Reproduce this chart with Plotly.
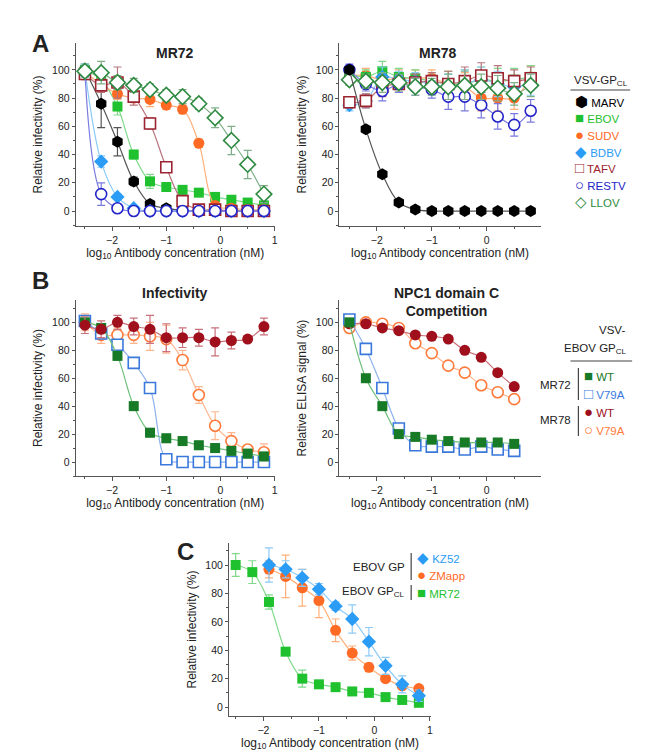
import plotly.graph_objects as go

# ---- data ----
xA = [-2.5, -2.2, -1.9, -1.6, -1.3, -1.0, -0.7, -0.4, -0.1, 0.2, 0.5, 0.8]
xN = [-2.5, -2.2, -1.9, -1.6, -1.3, -1.0, -0.7, -0.4, -0.1, 0.2, 0.5]
xK = [-1.9, -1.6, -1.3, -1.0, -0.7, -0.4, -0.1, 0.2, 0.5, 0.8]

# A: MR72
mr72_marv = [100, 76, 49, 21, 5, 2, 0.5, 0, 0, 0, 0, 0]
mr72_ebov = [100, 93, 74, 40, 21, 17, 15, 13, 10, 8, 6, 4]
mr72_sudv = [98, 90, 83, 80, 79, 75, 72, 48, 4, 2, 1, 1]
mr72_bdbv = [100, 35, 10, 2, 0, 0, 0, 0, 0, 0, 0, 0]
mr72_tafv = [97, 89, 91, 81, 62, 31, 7, 1, 1, 0, 0, 0]
mr72_restv = [99, 12, 2, 0, 0, 0, 0, 0, 0, 0, 0, 0]
mr72_llov = [99, 98, 91, 89, 86, 82, 81, 76, 66, 50, 33, 12]
mr72_err = {
    'marv': [4, 17, 10, 3, 2, 1, 1, 1, 1, 1, 1, 1],
    'ebov': [4, 6, 6, 3, 5, 3, 3, 2, 2, 2, 2, 2],
    'sudv': [4, 5, 4, 3, 5, 3, 3, 3, 2, 2, 1, 1],
    'bdbv': [4, 4, 2, 1, 1, 1, 1, 1, 1, 1, 1, 1],
    'tafv': [4, 5, 11, 6, 4, 3, 3, 1, 1, 1, 1, 1],
    'restv': [4, 8, 2, 1, 1, 1, 1, 1, 1, 1, 1, 1],
    'llov': [4, 8, 5, 5, 4, 4, 5, 4, 7, 10, 10, 6],
}
# A: MR78
mr78_marv = [100, 58, 26, 6, 1, 0, 0, 0, 0, 0, 0, 0]
mr78_ebov = [97, 95, 99, 95, 94, 92, 90, 90, 93, 92, 93, 95]
mr78_sudv = [96, 96, 93, 94, 94, 94, 90, 88, 80, 80, 80, 95]
mr78_bdbv = [75, 78, 95, 93, 92, 90, 88, 90, 93, 90, 88, 90]
mr78_tafv = [77, 78, 88, 90, 91, 92, 90, 92, 96, 94, 92, 94]
mr78_restv = [100, 90, 85, 90, 88, 86, 81, 81, 75, 67, 61, 71]
mr78_llov = [93, 92, 91, 91, 88, 88, 88, 89, 88, 87, 83, 89]
mr78_err = [4, 5, 7, 6, 6, 6, 9, 10, 9, 9, 8, 8]

# B: infectivity
inf_mr72_wt = [100, 96, 76, 40, 21, 17, 15, 12, 10, 8, 6, 4]
inf_mr72_v79a = [101, 92, 84, 71, 53, 2, 0, 0, 0, 0, 0, 0]
inf_mr78_wt = [98, 95, 100, 97, 95, 89, 89, 89, 86, 87, 88, 97]
inf_mr78_v79a = [100, 91, 91, 91, 90, 88, 73, 48, 26, 15, 9, 7]
inf_err = [6, 6, 5, 6, 10, 10, 7, 6, 10, 6, 2, 6]
# B: NPC1 competition
npc_mr72_wt = [100, 60, 40, 20, 18, 16, 15, 14, 14, 14, 13]
npc_mr72_v79a = [102, 81, 53, 24, 12, 11, 11, 9, 11, 9, 8]
npc_mr78_wt = [99, 99, 96, 94, 91, 90, 88, 80, 75, 64, 54]
npc_mr78_v79a = [96, 100, 99, 96, 85, 78, 69, 64, 55, 50, 45]

# C
c_mr72 = [100, 95, 74, 39, 20, 16, 14, 11, 10, 7, 5, 3]
c_kz52 = [100, 97, 91, 83, 71, 62, 46, 29, 16, 8]
c_zmapp = [97, 92, 84, 75, 54, 38, 28, 20, 15, 13]
c_err_mr72 = [8, 8, 5, 2, 6, 2, 2, 2, 2, 2, 2, 2]
c_err_kz52 = [12, 6, 6, 4, 3, 10, 10, 6, 6, 4]
c_err_zmapp = [6, 15, 13, 12, 8, 5, 3, 2, 2, 2]

W, H = 663, 752
FONT = "Liberation Sans, Arial, sans-serif"


def fx(p):
    return p / W


def fy(p):
    return 1 - p / H


fig = go.Figure()


def add(ax, x, y, err, symbol, color, lcolor, hollow=False, size=10):
    fig.add_trace(go.Scatter(
        x=x, y=y, mode='lines', line=dict(color=lcolor, width=1.2, shape='spline', smoothing=1.0),
        xaxis='x' + ax, yaxis='y' + ax, showlegend=False, hoverinfo='skip', cliponaxis=False))
    fig.add_trace(go.Scatter(
        x=x, y=y, mode='markers', cliponaxis=False,
        marker=dict(symbol=symbol, size=size, color='white' if hollow else color,
                    line=dict(color=color, width=1.6 if hollow else 0)),
        error_y=dict(type='data', array=err, color=lcolor, thickness=1.2, width=4),
        xaxis='x' + ax, yaxis='y' + ax, showlegend=False))


C_MARV, C_EBOV, C_SUDV, C_BDBV = '#000000', '#1fc12f', '#ff6a25', '#2b9cf5'
C_TAFV, C_RESTV, C_LLOV = '#9c2430', '#2424c8', '#2e8a40'
L_MARV, L_EBOV, L_SUDV, L_BDBV = '#555555', '#7fd98a', '#ffb07a', '#8ccaf8'
L_TAFV, L_RESTV, L_LLOV = '#b8747c', '#7a7ae0', '#7fae88'

# panel A left
e = mr72_err
add('', xA, mr72_marv, e['marv'], 'hexagon', C_MARV, L_MARV, size=12)
add('', xA, mr72_ebov, e['ebov'], 'square', C_EBOV, L_EBOV)
add('', xA, mr72_sudv, e['sudv'], 'circle', C_SUDV, L_SUDV, size=11)
add('', xA, mr72_bdbv, e['bdbv'], 'diamond', C_BDBV, L_BDBV, size=11)
add('', xA, mr72_tafv, e['tafv'], 'square', C_TAFV, L_TAFV, hollow=True, size=11)
add('', xA, mr72_restv, e['restv'], 'circle', C_RESTV, L_RESTV, hollow=True, size=11)
add('', xA, mr72_llov, e['llov'], 'diamond', C_LLOV, L_LLOV, hollow=True, size=12)
# panel A right
add('2', xA, mr78_sudv, mr78_err, 'circle', C_SUDV, L_SUDV, size=11)
add('2', xA, mr78_ebov, mr78_err, 'square', C_EBOV, L_EBOV)
add('2', xA, mr78_bdbv, mr78_err, 'diamond', C_BDBV, L_BDBV, size=11)
add('2', xA, mr78_tafv, mr78_err, 'square', C_TAFV, L_TAFV, hollow=True, size=11)
add('2', xA, mr78_restv, mr78_err, 'circle', C_RESTV, L_RESTV, hollow=True, size=11)
add('2', xA, mr78_llov, mr78_err, 'diamond', C_LLOV, L_LLOV, hollow=True, size=12)
add('2', xA, mr78_marv, [1] * 12, 'hexagon', C_MARV, L_MARV, size=12)

G_WT, B_V, R_WT, O_V = '#177a26', '#3a78dc', '#a0101c', '#ff7a3a'
LG_WT, LB_V, LR_WT, LO_V = '#6fbf7a', '#8eb2ee', '#c9707a', '#ffb58e'
# panel B left
add('3', xA, inf_mr78_v79a, inf_err, 'circle', O_V, LO_V, hollow=True, size=11)
add('3', xA, inf_mr72_v79a, [2] * 12, 'square', B_V, LB_V, hollow=True, size=11)
add('3', xA, inf_mr72_wt, [3] * 12, 'square', G_WT, LG_WT)
add('3', xA, inf_mr78_wt, inf_err, 'circle', R_WT, LR_WT, size=11)
# panel B right
add('4', xN, npc_mr78_v79a, [1] * 11, 'circle', O_V, LO_V, hollow=True, size=11)
add('4', xN, npc_mr78_wt, [2] * 11, 'circle', R_WT, LR_WT, size=11)
add('4', xN, npc_mr72_v79a, [2] * 11, 'square', B_V, LB_V, hollow=True, size=11)
add('4', xN, npc_mr72_wt, [1] * 11, 'square', G_WT, LG_WT)
# panel C
add('5', xA, c_mr72, c_err_mr72, 'square', C_EBOV, L_EBOV)
add('5', xK, c_zmapp, c_err_zmapp, 'circle', C_SUDV, L_SUDV, size=11)
add('5', xK, c_kz52, c_err_kz52, 'diamond', C_BDBV, L_BDBV, size=11)

XT = 'log<sub>10</sub> Antibody concentration (nM)'


def xax(d0, d1, rng, anchor, title, ticks):
    return dict(domain=[fx(d0), fx(d1)], range=rng, anchor=anchor, showline=True, linecolor='#555',
                linewidth=1, ticks='outside', ticklen=4, tickcolor='#555', tickvals=ticks,
                minor=dict(ticks='outside', ticklen=2, dtick=0.5, tickcolor='#555'),
                showgrid=False, zeroline=False, title=dict(text=title, font=dict(size=12), standoff=3),
                tickfont=dict(size=10.5))


def yax(t0, t1, rng, anchor, title):
    return dict(domain=[fy(t1), fy(t0)], range=rng, anchor=anchor, showline=True, linecolor='#555',
                linewidth=1, ticks='outside', ticklen=3, tickcolor='#555', tickvals=[0, 20, 40, 60, 80, 100],
                minor=dict(ticks='outside', ticklen=2, dtick=10, tickcolor='#555'),
                showgrid=False, zeroline=False, title=dict(text=title, font=dict(size=12), standoff=6),
                tickfont=dict(size=10.5))


ticks = [-2, -1, 0, 1]
RI = 'Relative infectivity (%)'
fig.update_layout(
    width=W, height=H, margin=dict(l=0, r=0, t=0, b=0), plot_bgcolor='white', paper_bgcolor='white',
    font=dict(family=FONT, color='#222'),
    xaxis=xax(68, 268, [-2.67, 1.0], 'y', XT, ticks),
    yaxis=yax(35, 218, [-10.6, 119], 'x', RI),
    xaxis2=xax(333, 535, [-2.68, 0.98], 'y2', XT, ticks),
    yaxis2=yax(35, 218, [-10.6, 119], 'x2', RI),
    xaxis3=xax(68, 268, [-2.67, 1.0], 'y3', XT, ticks),
    yaxis3=yax(292, 468, [-10, 116], 'x3', RI),
    xaxis4=xax(333, 535, [-2.68, 0.98], 'y4', XT, ticks),
    yaxis4=yax(292, 468, [-10, 116], 'x4', 'Relative ELISA signal (%)'),
    xaxis5=xax(222, 425, [-2.62, 1.02], 'y5', XT, ticks),
    yaxis5=yax(535, 708, [-6.3, 115.5], 'x5', RI),
)


def note(x, y, text, size=11, color='#222', xanchor='left', bold=False):
    if bold:
        text = '<b>' + text + '</b>'
    fig.add_annotation(x=fx(x), y=fy(y), xref='paper', yref='paper', text=text, showarrow=False,
                       xanchor=xanchor, yanchor='middle', font=dict(size=size, color=color, family=FONT))


note(22, 35, 'A', 24, bold=True)
note(22, 272, 'B', 24, bold=True)
note(168, 543, 'C', 24, bold=True)
note(168, 45, 'MR72', 14, xanchor='center', bold=True)
note(432, 45, 'MR78', 14, xanchor='center', bold=True)
note(168, 285, 'Infectivity', 14, xanchor='center', bold=True)
note(440, 294, 'NPC1 domain C<br>Competition', 14, xanchor='center', bold=True)

# legend A
note(567, 73, 'VSV-GP<sub>CL</sub>', 11.5)
fig.add_shape(type='line', xref='paper', yref='paper', x0=fx(565), x1=fx(625), y0=fy(82), y1=fy(82),
              line=dict(color='#444', width=1.2))
legA = [('⬢', 'MARV', C_MARV), ('■', 'EBOV', C_EBOV), ('●', 'SUDV', C_SUDV), ('◆', 'BDBV', C_BDBV),
        ('□', 'TAFV', C_TAFV), ('○', 'RESTV', C_RESTV), ('◇', 'LLOV', C_LLOV)]
for i, (s, n, c) in enumerate(legA):
    note(568, 93 + i * 16.7, '<span style="font-size:15px">' + s + '</span> ' + n, 11.5, color=c)

# legend B
note(622, 322, 'VSV-', 11.5, xanchor='right')
note(624, 341, 'EBOV GP<sub>CL</sub>', 11.5, xanchor='right')
fig.add_shape(type='line', xref='paper', yref='paper', x0=fx(565), x1=fx(627), y0=fy(353), y1=fy(353),
              line=dict(color='#444', width=1.2))
for y0, y1 in [(360, 392), (398, 428)]:
    fig.add_shape(type='line', xref='paper', yref='paper', x0=fx(573), x1=fx(573), y0=fy(y0), y1=fy(y1),
                  line=dict(color='#444', width=1.2))
note(568, 377, 'MR72', 11.5, xanchor='right')
note(568, 412, 'MR78', 11.5, xanchor='right')
legB = [('■', 'WT', G_WT, 368), ('□', 'V79A', B_V, 385), ('●', 'WT', R_WT, 403), ('○', 'V79A', O_V, 421)]
for s, n, c, y in legB:
    note(577, y, '<span style="font-size:15px">' + s + '</span> ' + n, 11.5, color=c)

# legend C
note(401, 559, 'EBOV GP', 11.5, xanchor='right')
note(401, 584, 'EBOV GP<sub>CL</sub>', 11.5, xanchor='right')
fig.add_shape(type='line', xref='paper', yref='paper', x0=fx(405), x1=fx(405), y0=fy(545), y1=fy(572),
              line=dict(color='#444', width=1.2))
fig.add_shape(type='line', xref='paper', yref='paper', x0=fx(405), x1=fx(405), y0=fy(577), y1=fy(592),
              line=dict(color='#444', width=1.2))
legC = [('◆', 'KZ52', C_BDBV, 549), ('●', 'ZMapp', C_SUDV, 566), ('■', 'MR72', C_EBOV, 584)]
for s, n, c, y in legC:
    note(409, y, '<span style="font-size:15px">' + s + '</span> ' + n, 11.5, color=c)

fig.write_html("out.html")
